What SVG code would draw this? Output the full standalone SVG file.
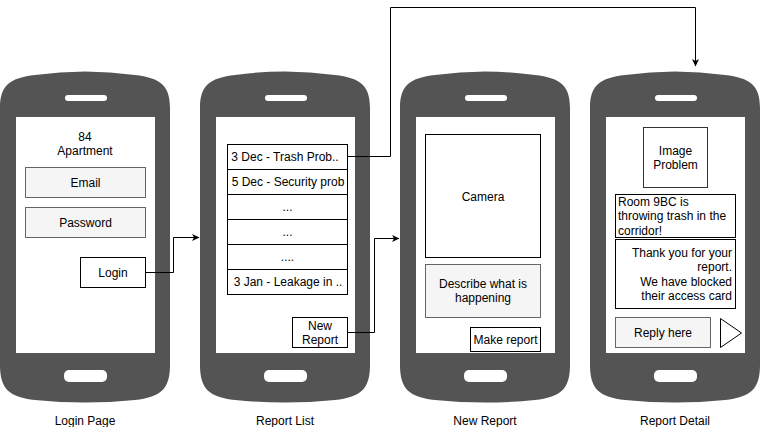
<svg xmlns="http://www.w3.org/2000/svg" xmlns:xlink="http://www.w3.org/1999/xlink" width="761" height="427" viewBox="0 0 761 427">
<style>
text{font-family:"Liberation Sans",Arial,sans-serif;font-size:12px;fill:#000}
.c{text-anchor:middle}
.r{text-anchor:end}
.body{fill:#545454}
.scr{fill:#fff}
.btn{fill:#fff}
.box{fill:#fff;stroke:#000;stroke-width:1}
.inp{fill:#f5f5f5;stroke:#666;stroke-width:1}
.edge{fill:none;stroke:#000;stroke-width:1}
</style>
<defs>
<g id="phone">
<path class="body" d="M0,108 C0,85 10,78 35,75 Q85,68 135,75 C160,78 170,85 170,108 L170,365 C170,390 160,397 135,400 Q85,405 35,400 C10,397 0,390 0,365 Z"/>
<rect class="scr" x="16" y="117" width="139" height="236"/>
<rect class="btn" x="65" y="95" width="42" height="6" rx="3"/>
<rect class="btn" x="64" y="370" width="43" height="12" rx="5"/>
</g>
<marker id="arr" markerWidth="8" markerHeight="8" refX="7" refY="4" orient="auto" markerUnits="userSpaceOnUse">
<path d="M0,0.5 L7.5,4 L0,7.5 L2,4 Z" fill="#000"/>
</marker>
</defs>

<g id="login-page">
<use xlink:href="#phone" x="0" y="0"/>
<text class="c" x="85" y="141">84</text>
<text class="c" x="85" y="155">Apartment</text>
<rect class="inp" x="25.5" y="167.5" width="120" height="30"/>
<text class="c" x="85.5" y="187">Email</text>
<rect class="inp" x="25.5" y="207.5" width="120" height="30"/>
<text class="c" x="85.5" y="227">Password</text>
<rect class="box" x="80.5" y="257.5" width="65" height="30"/>
<text class="c" x="113" y="277">Login</text>
<text class="c" x="85" y="425">Login Page</text>
</g>

<g id="report-list">
<use xlink:href="#phone" x="200" y="0"/>
<rect class="box" x="227.5" y="144.5" width="120" height="25"/>
<text class="c" x="285" y="161">3 Dec - Trash Prob..</text>
<rect class="box" x="227.5" y="169.5" width="120" height="25"/>
<text class="c" x="288" y="186">5 Dec - Security prob</text>
<rect class="box" x="227.5" y="194.5" width="120" height="25"/>
<text class="c" x="287.5" y="211">...</text>
<rect class="box" x="227.5" y="219.5" width="120" height="25"/>
<text class="c" x="287.5" y="236">...</text>
<rect class="box" x="227.5" y="244.5" width="120" height="25"/>
<text class="c" x="287.5" y="261">....</text>
<rect class="box" x="227.5" y="269.5" width="120" height="25"/>
<text class="c" x="288" y="286">3 Jan - Leakage in ..</text>
<rect class="box" x="292.5" y="317.5" width="55" height="30"/>
<text class="c" x="320" y="330">New</text>
<text class="c" x="320" y="344">Report</text>
<text class="c" x="285" y="425">Report List</text>
</g>

<g id="new-report">
<use xlink:href="#phone" x="400" y="0"/>
<rect class="box" x="425.5" y="134.5" width="115" height="123"/>
<text class="c" x="483" y="201">Camera</text>
<rect class="inp" x="425.5" y="264.5" width="115" height="53"/>
<text class="c" x="483" y="288">Describe what is</text>
<text class="c" x="483" y="302">happening</text>
<rect class="box" x="470.5" y="327.5" width="70" height="24"/>
<text class="c" x="505.5" y="344">Make report</text>
<text class="c" x="485" y="425">New Report</text>
</g>

<g id="report-detail">
<use xlink:href="#phone" x="590" y="0"/>
<rect class="box" x="643.5" y="127.5" width="64" height="60" style="stroke:#333"/>
<text class="c" x="675.5" y="155">Image</text>
<text class="c" x="675.5" y="169">Problem</text>
<rect class="box" x="615.5" y="194.5" width="120" height="43"/>
<text x="618" y="206">Room 9BC is</text>
<text x="618" y="220">throwing trash in the</text>
<text x="618" y="235">corridor!</text>
<rect class="box" x="615.5" y="239.5" width="120" height="69"/>
<text class="r" x="732" y="257">Thank you for your</text>
<text class="r" x="732" y="271">report.</text>
<text class="r" x="732" y="286">We have blocked</text>
<text class="r" x="732" y="300">their access card</text>
<rect class="inp" x="615.5" y="317.5" width="95" height="30"/>
<text class="c" x="663" y="337">Reply here</text>
<path class="box" d="M720.5,318.5 L741.5,333 L720.5,347.5 Z"/>
<text class="c" x="675" y="425">Report Detail</text>
</g>

<g id="connectors">
<path class="edge" d="M145.5,272.5 H173.5 V237.5 H199" marker-end="url(#arr)"/>
<path class="edge" d="M347.5,156.5 H390.5 V7.5 H695.5 V66" marker-end="url(#arr)"/>
<path class="edge" d="M347.5,332.5 H374.5 V238.5 H399" marker-end="url(#arr)"/>
</g>
</svg>
